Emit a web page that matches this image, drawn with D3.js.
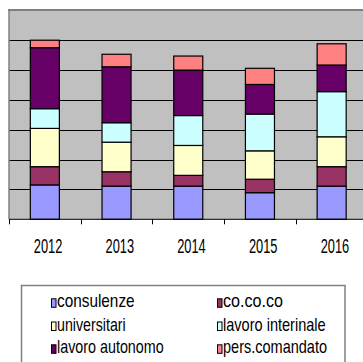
<!DOCTYPE html>
<html><head><meta charset="utf-8">
<script src="https://cdn.jsdelivr.net/npm/d3@7"></script>
<style>html,body{margin:0;padding:0;background:#fff;overflow:hidden}</style>
</head><body><svg id="c" width="363" height="362"></svg>
<script>
const years = ["2012","2013","2014","2015","2016"];
const seriesNames = ["consulenze","co.co.co","universitari","lavoro interinale","lavoro autonomo","pers.comandato"];
const seriesColors = ["#9999FF","#993366","#FFFFCC","#CCFFFF","#660066","#FF8080"];
const consulenze = [1.15,1.11,1.11,0.89,1.11];
const cococo = [0.61,0.48,0.36,0.45,0.65];
const universitari = [1.28,0.99,1.00,0.95,1.00];
const interinale = [0.66,0.65,1.00,1.23,1.51];
const autonomo = [2.04,1.87,1.52,0.99,0.89];
const comandato = [0.25,0.42,0.47,0.54,0.71];
const yTicks = [0,1,2,3,4,5,6,7];

const seriesVals = [consulenze,cococo,universitari,interinale,autonomo,comandato];
const rows = years.map((yr,i)=>{const r={year:yr}; seriesNames.forEach((s,j)=>r[s]=seriesVals[j][i]); return r;});
const stack = d3.stack().keys(seriesNames)(rows);

const svg = d3.select("#c");
const pL=9, pR=367.5, pT=10, pB=219.3;
const x = d3.scaleBand().domain(years).range([pL,pR]).paddingInner(0.595).paddingOuter(0.2975);
const y = d3.scaleLinear().domain([0,7]).range([pB,pT]);
const step = x.step();

svg.append("rect").attr("x",pL).attr("y",pT).attr("width",pR-pL).attr("height",pB-pT).attr("fill","#C0C0C0");
svg.append("g").selectAll("line").data(yTicks.filter(t=>t>0&&t<7)).join("line")
  .attr("x1",pL).attr("x2",pR).attr("y1",d=>Math.round(y(d))+0.5).attr("y2",d=>Math.round(y(d))+0.5)
  .attr("stroke","#000").attr("stroke-width",1);
svg.append("line").attr("x1",pL-1).attr("x2",pR).attr("y1",pT).attr("y2",pT).attr("stroke","#808080").attr("stroke-width",2);
svg.append("line").attr("x1",pL).attr("x2",pL).attr("y1",pT).attr("y2",pB).attr("stroke","#808080").attr("stroke-width",1.5);

svg.append("g").selectAll("g").data(stack).join("g")
  .attr("fill",(d,i)=>seriesColors[i])
  .selectAll("rect").data(d=>d).join("rect")
  .attr("x",d=>x(d.data.year)).attr("width",x.bandwidth())
  .attr("y",d=>y(d[1])).attr("height",d=>y(d[0])-y(d[1]))
  .attr("stroke","#000").attr("stroke-width",1.2);

svg.append("line").attr("x1",pL).attr("x2",pR).attr("y1",pB).attr("y2",pB).attr("stroke","#000").attr("stroke-width",1);
const tickPos = years.map(yr=>x(yr)-(step-x.bandwidth())/2).concat([pR]);
svg.append("g").selectAll("line").data(tickPos).join("line")
  .attr("x1",d=>Math.round(d)+0.5).attr("x2",d=>Math.round(d)+0.5).attr("y1",pB).attr("y2",pB+5).attr("stroke","#000");
svg.append("g").selectAll("text").data(years).join("text")
  .attr("x",d=>x(d)+x.bandwidth()/2+3-14).attr("y",253)
  .attr("textLength",28.5).attr("lengthAdjust","spacingAndGlyphs")
  .attr("font-family","Liberation Sans, Arial, sans-serif").attr("font-size",19.5).attr("fill","#000")
  .text(d=>d);

svg.append("rect").attr("x",21.5).attr("y",285.5).attr("width",323.5).attr("height",90)
  .attr("fill","#fff").attr("stroke","#808080").attr("stroke-width",1.5);
const legPos = [[51,307.3],[217,307.3],[51,330.5],[217,330.5],[51,353.3],[217,353.3]];
const legW = [77.6,60,68.7,102.7,106.7,104];
const lg = svg.append("g").selectAll("g").data(seriesNames).join("g")
  .attr("transform",(d,i)=>`translate(${legPos[i][0]},${legPos[i][1]})`);
lg.append("rect").attr("x",0.5).attr("y",-8.5).attr("width",4.5).attr("height",8.5)
  .attr("fill",(d,i)=>seriesColors[i]).attr("stroke","#000").attr("stroke-width",1);
lg.append("text").attr("x",6).attr("y",0)
  .attr("textLength",(d,i)=>legW[i]).attr("lengthAdjust","spacingAndGlyphs")
  .attr("font-family","Liberation Sans, Arial, sans-serif").attr("font-size",19).attr("fill","#000")
  .text(d=>d);
</script></body></html>
